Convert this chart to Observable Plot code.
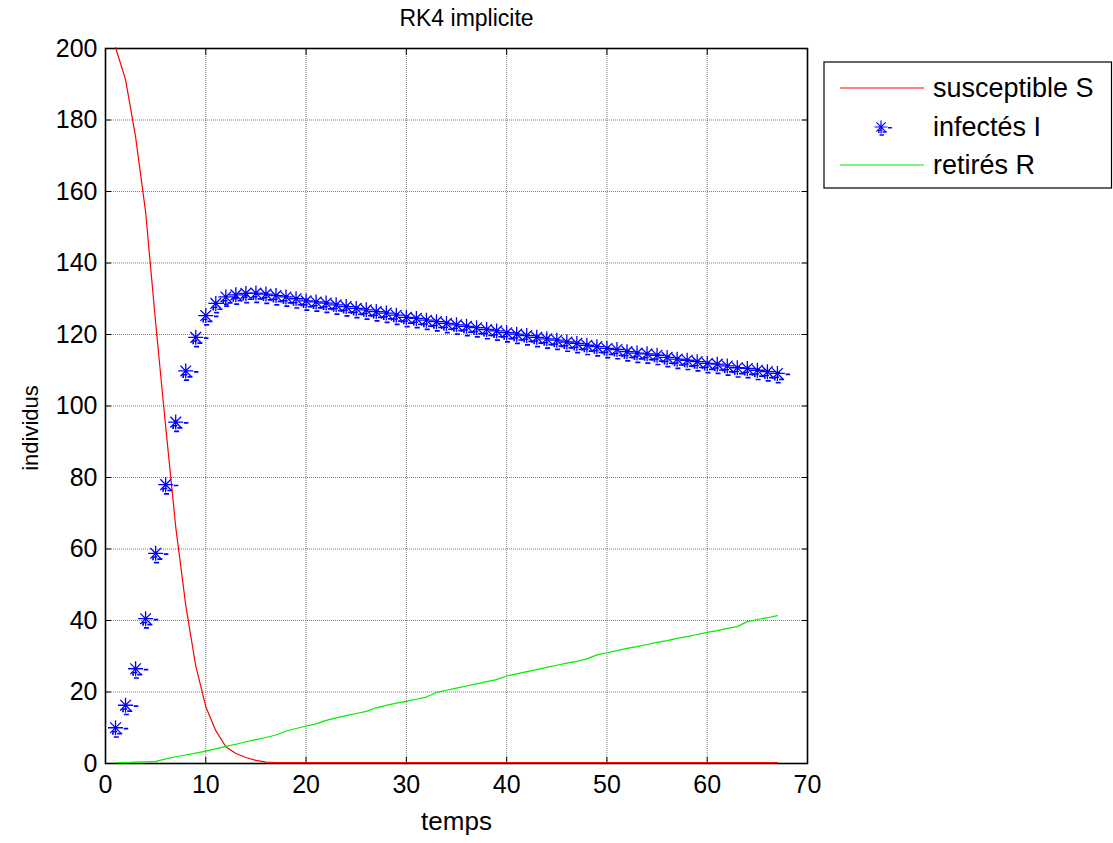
<!DOCTYPE html>
<html>
<head>
<meta charset="utf-8">
<script src="https://cdn.jsdelivr.net/npm/d3@7"></script>
<script src="https://cdn.jsdelivr.net/npm/@observablehq/plot@0.6"></script>
<style>
  html, body { margin: 0; padding: 0; background: #fff; }
  #chart svg { display: block; }
</style>
</head>
<body>
<div id="chart"></div>
<script>
// ---- data ----
const temps = [1,2,3,4,5,6,7,8,9,10,11,12,13,14,15,16,17,18,19,20,21,22,23,24,25,26,27,28,29,30,31,32,33,34,35,36,37,38,39,40,41,42,43,44,45,46,47,48,49,50,51,52,53,54,55,56,57,58,59,60,61,62,63,64,65,66,67];
const susceptibleS = [200,191,175,154,123,94,66,44,27,15.6,8.9,4.4,2.5,1.4,0.6,0.1,0,0,0,0,0,0,0,0,0,0,0,0,0,0,0,0,0,0,0,0,0,0,0,0,0,0,0,0,0,0,0,0,0,0,0,0,0,0,0,0,0,0,0,0,0,0,0,0,0,0,0];
const infectesI = [10,16.3,26.5,40.5,58.8,78,95.5,109.8,119.2,125.3,128.7,130.5,131.1,131.5,131.6,131.3,130.9,130.5,130.0,129.4,129.1,128.8,128.3,127.8,127.3,126.9,126.4,126.0,125.4,124.8,124.5,124.0,123.6,123.1,122.7,122.3,121.9,121.4,121.0,120.5,120.1,119.7,119.2,118.8,118.4,117.9,117.5,117.0,116.6,116.1,115.8,115.2,114.8,114.6,114.2,113.6,113.1,112.8,112.4,111.9,111.7,111.2,110.7,110.5,110.0,109.6,109.1];
const retiresR = [0,0,0.1,0.2,0.3,1.0,1.6,2.1,2.6,3.2,3.8,4.5,5.1,5.8,6.4,7.0,7.7,8.8,9.5,10.2,10.8,11.8,12.5,13.1,13.7,14.3,15.3,16.0,16.6,17.1,17.7,18.3,19.6,20.2,20.8,21.4,22.0,22.6,23.2,24.2,24.8,25.4,26.0,26.6,27.2,27.8,28.3,29.0,30.1,30.7,31.3,31.9,32.4,33.0,33.6,34.1,34.7,35.2,35.8,36.4,36.9,37.5,38.0,39.4,40.0,40.5,41.1];
const xTicks = [0,10,20,30,40,50,60,70];
const yTicks = [0,20,40,60,80,100,120,140,160,180,200];
const seriesNames = ["susceptible S", "infectés I", "retirés R"];
const titleText = "RK4 implicite";
const xLabel = "temps";
const yLabel = "individus";

const data = temps.map((t, i) => ({t, S: susceptibleS[i], I: infectesI[i], R: retiresR[i]}));

// MATLAB-like '*' marker
const starSymbol = {
  draw(ctx, size) {
    const r = Math.sqrt(size / Math.PI);
    const k = r / 7;
    const seg = (x1, y1, x2, y2) => { ctx.moveTo(x1 * k, y1 * k); ctx.lineTo(x2 * k, y2 * k); };
    seg(-7, 0, 7, 0);
    seg(0, -7, 0, 7);
    seg(-5, -5, 5, 5);
    seg(-5, 5, 5, -5);
  }
};
// small dash artefacts that accompany each marker in the picture
const dashSymbol = {
  draw(ctx, size) {
    const r = Math.sqrt(size / Math.PI);
    const k = r / 7;
    const rc = (x, y, w, h) => ctx.rect(x * k, y * k, w * k, h * k);
    rc(8.2, 0, 4.5, 1.7);
    rc(-3.4, 3, 1.7, 4);
    rc(-3.4, 3, 5, 1.5);
    rc(1.7, 5, 5, 1.7);
    rc(-1.7, 8.4, 5, 1.7);
  }
};

const FONT = "'Liberation Sans', Arial, Helvetica, sans-serif";

const chart = Plot.plot({
  width: 1113,
  height: 843,
  marginLeft: 105,
  marginRight: 306,
  marginTop: 48,
  marginBottom: 80,
  style: {fontFamily: FONT, fontSize: "25px", background: "#fff", color: "#000"},
  x: {domain: [0, 70]},
  y: {domain: [0, 200]},
  marks: [
    Plot.gridX(xTicks, {stroke: "#000", strokeOpacity: 0.5, strokeDasharray: "1,1"}),
    Plot.gridY(yTicks, {stroke: "#000", strokeOpacity: 0.5, strokeDasharray: "1,1"}),
    Plot.frame({stroke: "#000", strokeWidth: 1.6}),
    Plot.axisX(xTicks, {anchor: "bottom", tickSize: 0, tickPadding: 12, label: null, fontSize: 25}),
    Plot.axisX(xTicks, {anchor: "bottom", tickSize: -6, tickFormat: () => "", label: null}),
    Plot.axisX(xTicks, {anchor: "top", tickSize: -6, tickFormat: () => "", label: null}),
    Plot.axisY(yTicks, {anchor: "left", tickSize: 0, tickPadding: 8, label: null, fontSize: 25}),
    Plot.axisY(yTicks, {anchor: "left", tickSize: -6, tickFormat: () => "", label: null}),
    Plot.axisY(yTicks, {anchor: "right", tickSize: -6, tickFormat: () => "", label: null}),
    Plot.line(data, {x: "t", y: "S", stroke: "#ff0000", strokeWidth: 1.2, dy: -1}),
    Plot.line(data, {x: "t", y: "R", stroke: "#00ee00", strokeWidth: 1.2, dy: -1}),
    Plot.dot(data, {x: "t", y: "I", symbol: dashSymbol, r: 7, fill: "#0000ff", stroke: "none"}),
    Plot.dot(data, {x: "t", y: "I", symbol: starSymbol, r: 7.5, stroke: "#0000ff", fill: "none", strokeWidth: 1.3}),
    Plot.text([titleText], {frameAnchor: "top", dx: 10, dy: -39, fontSize: 23}),
    Plot.text([xLabel], {frameAnchor: "bottom", dy: 66, fontSize: 26}),
    Plot.text([yLabel], {frameAnchor: "left", dx: -75, dy: 22, rotate: -90, textAnchor: "middle", fontSize: 22})
  ]
});

document.getElementById("chart").appendChild(chart);

// legend box (outside the axes, like MATLAB)
const svg = d3.select(chart);
const lg = svg.append("g").attr("font-family", FONT).attr("font-size", 27).attr("text-anchor", "start");
lg.append("rect").attr("x", 824).attr("y", 62).attr("width", 287.5).attr("height", 126)
  .attr("fill", "#fff").attr("stroke", "#000").attr("stroke-width", 1.2);
const rowsY = [88, 127, 165];
const colors = ["#ff0000", "#0000ff", "#00ee00"];
seriesNames.forEach((name, i) => {
  if (i === 1) {
    lg.append("path")
      .attr("d", d3.symbol(dashSymbol, Math.PI * 36)())
      .attr("transform", `translate(881,${rowsY[i]})`)
      .attr("fill", colors[i]).attr("stroke", "none");
    lg.append("path")
      .attr("d", d3.symbol(starSymbol, Math.PI * 42)())
      .attr("transform", `translate(881,${rowsY[i]})`)
      .attr("fill", "none").attr("stroke", colors[i]).attr("stroke-width", 1.2);
  } else {
    lg.append("line").attr("x1", 840).attr("x2", 924).attr("y1", rowsY[i]).attr("y2", rowsY[i])
      .attr("stroke", colors[i]).attr("stroke-width", 1.2);
  }
  lg.append("text").attr("x", 933).attr("y", rowsY[i]).attr("dy", "0.35em").text(name);
});
</script>
</body>
</html>
